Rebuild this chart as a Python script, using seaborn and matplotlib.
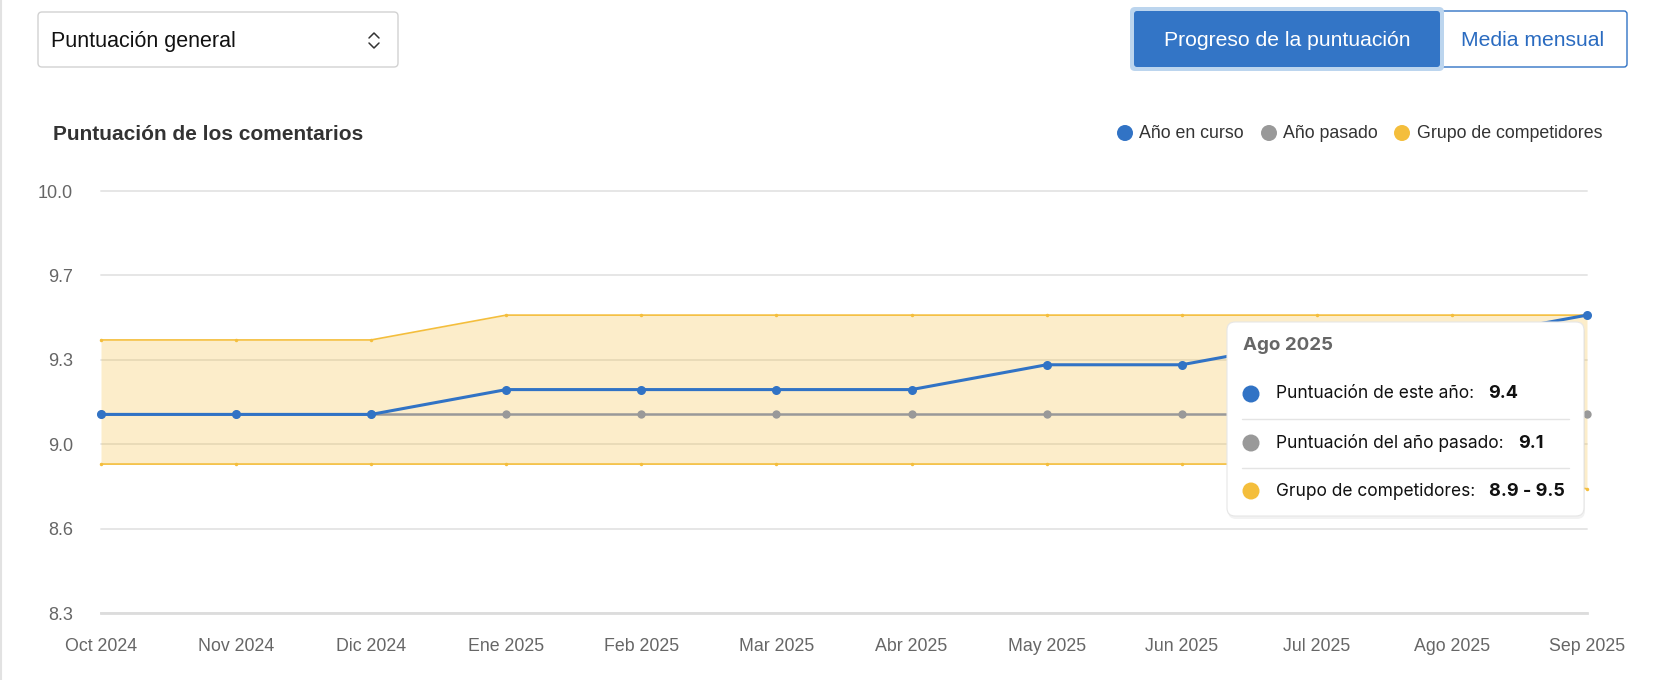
import numpy as np
import pandas as pd
import matplotlib.pyplot as plt
import seaborn as sns
from matplotlib.patches import FancyBboxPatch, Circle

# data
months = ["Oct 2024", "Nov 2024", "Dic 2024", "Ene 2025", "Feb 2025", "Mar 2025",
          "Abr 2025", "May 2025", "Jun 2025", "Jul 2025", "Ago 2025", "Sep 2025"]
this_year = [9.1, 9.1, 9.1, 9.2, 9.2, 9.2, 9.2, 9.3, 9.3, 9.4, 9.4, 9.5]
last_year = [9.1, 9.1, 9.1, 9.1, 9.1, 9.1, 9.1, 9.1, 9.1, 9.1, 9.1, 9.1]
comp_low = [8.9, 8.9, 8.9, 8.9, 8.9, 8.9, 8.9, 8.9, 8.9, 8.9, 8.9, 8.8]
comp_high = [9.4, 9.4, 9.4, 9.5, 9.5, 9.5, 9.5, 9.5, 9.5, 9.5, 9.5, 9.5]
y_ticks = [8.3, 8.64, 8.98, 9.32, 9.66, 10.0]
legend_labels = ["Año en curso", "Año pasado", "Grupo de competidores"]
tooltip_idx = 10

BLUE = "#3173C5"
GRAY = "#999999"
YELLOW = "#F4BE3C"

sns.set_theme(style="white")
plt.rcParams['font.family'] = ['Liberation Sans', 'DejaVu Sans']

df = pd.DataFrame({"x": np.arange(len(months)), "this": this_year, "last": last_year,
                   "low": comp_low, "high": comp_high})

W, H = 1660, 680
fig = plt.figure(figsize=(W / 100, H / 100), dpi=100)
fig.patch.set_facecolor("white")

# plot area in pixels: x 101..1587, y 191..613
ax = fig.add_axes([101 / W, (H - 613) / H, (1587 - 101) / W, (613 - 191) / H])

ax.fill_between(df["x"], df["low"], df["high"], color=YELLOW, alpha=0.27, lw=0, zorder=1)
for col in ["low", "high"]:
    sns.lineplot(data=df, x="x", y=col, ax=ax, color=YELLOW, linewidth=1.2,
                 marker="o", markersize=2.5, markeredgewidth=0, zorder=2, clip_on=False)
sns.lineplot(data=df, x="x", y="last", ax=ax, color=GRAY, linewidth=1.8,
             marker="o", markersize=6, markeredgewidth=0, zorder=3, clip_on=False)
sns.lineplot(data=df, x="x", y="this", ax=ax, color=BLUE, linewidth=2.2,
             marker="o", markersize=6.5, markeredgewidth=0, zorder=4, clip_on=False)

ax.set_xlim(0, len(months) - 1)
ax.set_ylim(8.3, 10.0)
ax.set_xticks(df["x"])
ax.set_xticklabels(months)
ax.set_yticks(y_ticks)
ax.set_yticklabels([f"{v:.1f}" for v in y_ticks])
ax.set_xlabel("")
ax.set_ylabel("")
ax.yaxis.grid(True, color="#E6E6E6", linewidth=1.4)
ax.xaxis.grid(False)
ax.set_axisbelow(True)
for gl in ax.get_ygridlines():
    gl.set_clip_on(False)
for s in ["top", "left", "right"]:
    ax.spines[s].set_visible(False)
ax.spines["bottom"].set_color("#DCDCDC")
ax.spines["bottom"].set_linewidth(2)
ax.tick_params(axis="x", length=0, pad=18, labelsize=12.8, labelcolor="#666666")
ax.tick_params(axis="y", length=0, pad=20, labelsize=13, labelcolor="#666666")
ax.set_facecolor("white")

# overlay in pixel coordinates for the page widgets
ov = fig.add_axes([0, 0, 1, 1], zorder=10)
ov.set_xlim(0, W)
ov.set_ylim(H, 0)
ov.axis("off")

ov.plot([1, 1], [0, H], color="#E2E2E2", lw=1.5)

# dropdown
ov.add_patch(FancyBboxPatch((38, 12), 360, 55, boxstyle="round,pad=0,rounding_size=4",
                            fc="white", ec="#D2D2D2", lw=1))
ov.text(51, 42, "Puntuación general", fontsize=15.5, color="#111111", va="center", ha="left")
ov.plot([369, 374, 379], [38, 33, 38], color="#333333", lw=1.1, solid_capstyle="round")
ov.plot([369, 374, 379], [43, 48, 43], color="#333333", lw=1.1, solid_capstyle="round")

# toggle buttons
ov.add_patch(FancyBboxPatch((1438, 11), 189, 56, boxstyle="round,pad=0,rounding_size=3",
                            fc="white", ec=BLUE, lw=1))
ov.add_patch(FancyBboxPatch((1130, 7), 314, 64, boxstyle="round,pad=0,rounding_size=5",
                            fc="#BCD5EE", ec="none"))
ov.add_patch(FancyBboxPatch((1134, 11), 306, 56, boxstyle="round,pad=0,rounding_size=3",
                            fc="#3375C6", ec="none"))
ov.text(1287, 41, "Progreso de la puntuación", fontsize=15.2, color="white", ha="center", va="center")
ov.text(1533, 41, "Media mensual", fontsize=15.2, color="#2A6BC0", ha="center", va="center")

# title and legend
ov.text(53, 135, "Puntuación de los comentarios", fontsize=15, fontweight="bold",
        color="#333333", ha="left", va="center")
for cx, tx, lab, c in zip([1125, 1269, 1402], [1139, 1283, 1417], legend_labels, [BLUE, GRAY, YELLOW]):
    ov.add_patch(Circle((cx, 133), 8, fc=c, ec="none"))
    ov.text(tx, 134, lab, fontsize=12.8, color="#333333", ha="left", va="center")

# tooltip for Ago 2025
ov.add_patch(FancyBboxPatch((1228, 325), 357, 194, boxstyle="round,pad=0,rounding_size=8",
                            fc="black", alpha=0.05, ec="none"))
ov.add_patch(FancyBboxPatch((1227, 322), 357, 194, boxstyle="round,pad=0,rounding_size=8",
                            fc="white", ec="#E6E6E6", lw=0.8))
ov.text(1243, 345, months[tooltip_idx], fontsize=13.5, fontweight="bold", color="#666666",
        ha="left", va="center", family=["Inter", "DejaVu Sans"])
rows = [
    ("Puntuación de este año:", f"{this_year[tooltip_idx]:.1f}", BLUE, 394),
    ("Puntuación del año pasado:", f"{last_year[tooltip_idx]:.1f}", GRAY, 443),
    ("Grupo de competidores:", f"{comp_low[tooltip_idx]:.1f} - {comp_high[tooltip_idx]:.1f}", YELLOW, 491),
]
renderer = fig.canvas.get_renderer()
inv = ov.transData.inverted()
for lab, val, c, yy in rows:
    ov.add_patch(Circle((1251, yy), 8.5, fc=c, ec="none"))
    t = ov.text(1276, yy, lab, fontsize=12.5, color="#111111", ha="left", va="center",
                family=["Inter", "DejaVu Sans"])
    x1 = inv.transform(t.get_window_extent(renderer).p1)[0]
    ov.text(x1 + 14, yy, val, fontsize=13, fontweight="bold", color="#111111",
            ha="left", va="center", family=["Inter", "DejaVu Sans"])
for yy in [419, 468]:
    ov.plot([1242, 1569], [yy, yy], color="#E4E4E4", lw=1)

fig.savefig("out.png", dpi=100, facecolor="white")
